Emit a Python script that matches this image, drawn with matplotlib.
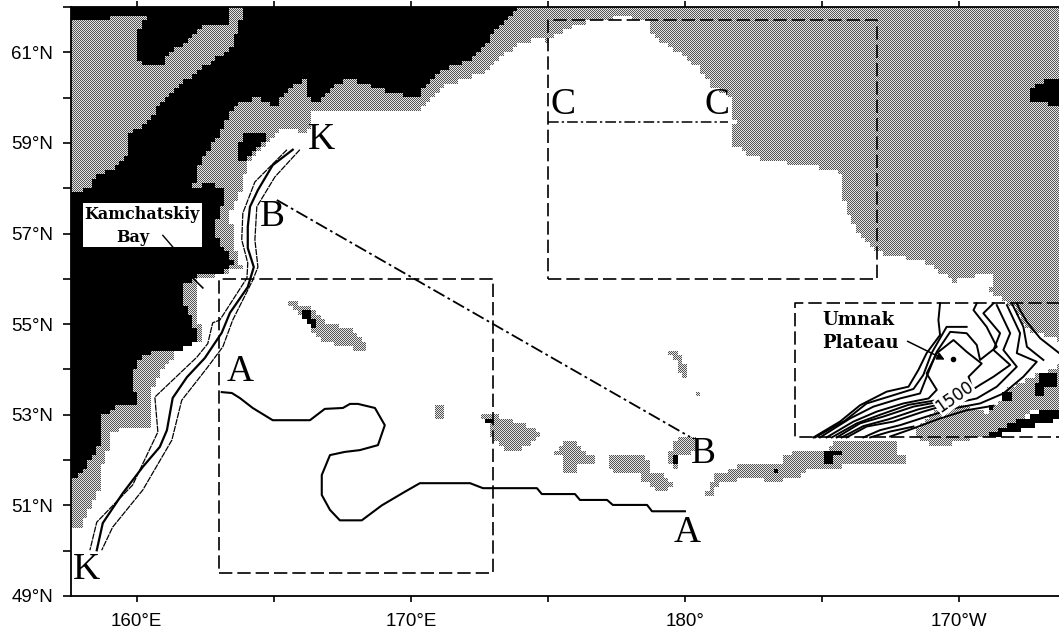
import numpy as np
import matplotlib
matplotlib.use("Agg")
import matplotlib.pyplot as plt
from matplotlib.path import Path
from matplotlib.patches import Rectangle

# depth classes as (lon, lat), lon runs past 180 going east
shelf_main = [(157,62.5),(194,62.5),(194,54.54),(192.49,54.87),(191.97,55.38),(191.14,55.69),(191.21,56.15),
    (189.78,55.93),(188.58,56.42),(187.38,56.48),(186.86,56.68),(186.21,57.08),(185.84,57.52),(185.66,58.34),
    (184.82,58.47),(184.2,58.51),(182.48,58.67),(181.65,59.0),(181.83,59.44),(181.65,59.66),(181.65,60.02),
    (180.92,60.24),(180.44,60.68),(179.56,61.05),(178.8,61.34),(178.73,61.7),(177.63,61.78),(175.99,61.6),
    (175.26,61.38),(175.0,61.23),(174.71,61.27),(173.98,61.23),(172.52,60.5),(171.06,60.21),(170.33,59.68),
    (167.78,59.73),(166.42,59.66),(166.24,59.22),(165.33,59.29),(164.67,58.91),(164.05,58.62),(163.76,57.9),
    (163.4,57.45),(163.5,56.7),(163.83,56.24),(162.77,56.04),(162.19,56.04),(162.19,55.25),
    (162.37,54.69),(161.83,54.47),(161.31,54.54),(161.31,54.21),(160.84,53.94),(160.48,53.39),
    (160.48,52.71),(159.75,52.71),(158.94,52.6),(158.94,52.22),(158.72,51.85),(158.72,51.49),(158.29,50.9),
    (157.92,50.52),(157,50.45)]
shelf_isles = [
    [(165.33,55.53),(166.32,55.36),(166.79,55.05),(167.78,54.87),(168.4,54.54),(168.4,54.38),(167.67,54.47),
     (166.68,54.65),(166.32,54.91),(165.88,55.27)],
    [(170.8,53.17),(171.17,53.17),(171.17,52.95),(170.8,52.95)],
    [(172.45,52.88),(172.7,53.04),(173.25,52.93),(174.09,52.77),(174.64,52.62),(174.6,52.44),(173.98,52.22),
     (173.51,52.22),(172.96,52.49),(172.89,52.82)],
    [(175.08,52.11),(175.55,52.4),(176.06,52.4),(176.24,52.18),(176.72,52.07),(176.72,51.93),(176.06,51.93),
     (176.06,51.71),(175.55,51.71),(175.55,52.04)],
    [(177.12,52.04),(177.63,52.15),(178.65,52.04),(178.65,51.71),(179.2,51.67),(179.56,51.38),(178.98,51.31),
     (178.36,51.56),(178.25,51.71),(177.34,51.71)],
    [(179.27,52.11),(179.56,52.18),(179.56,52.4),(179.93,52.49),(180.37,52.51),(180.26,52.11),(179.75,52.07),
     (179.71,51.82),(179.38,51.89)],
    [(180.73,51.23),(180.99,51.49),(180.99,51.67),(181.83,51.78),(181.83,51.93),(183.58,51.91),(183.58,52.07),
     (183.94,52.18),(185.11,52.18),(185.48,52.44),(187.74,52.44),(187.74,52.15),(188.14,52.15),(188.14,51.93),
     (185.66,51.93),(185.66,51.82),(184.46,51.82),(184.46,51.71),(183.73,51.56),(183.18,51.51),(183.11,51.45),
     (182.85,51.56),(181.9,51.56),(181.17,51.45),(181.02,51.23)],
    [(179.35,54.38),(179.71,54.38),(179.89,54.21),(180.08,53.94),(180.0,53.81),(179.82,53.83),(179.71,54.14)],
    [(180.44,53.52),(180.55,53.52),(180.55,53.41),(180.44,53.41)],
    [(188.32,52.66),(188.84,52.95),(189.42,53.17),(190.22,53.17),(191.03,53.04),(191.57,53.39),(191.87,53.61),
     (192.7,53.83),(194,54.14),(194,53.15),(192.7,53.11),(191.97,52.73),(190.88,52.51),(189.31,52.29),(188.65,52.38)],
]
land_polys = [
    [(157,51.45),(157.85,51.67),(158.21,51.93),(158.47,52.17),(158.72,52.55),(158.58,52.93),(159.27,53.17),
     (160.0,53.17),(159.82,53.83),(160.0,54.16),(160.66,54.43),(161.75,54.45),(162.23,54.69),(162.04,55.03),
     (161.86,55.31),(161.68,55.53),(161.68,55.85),(162.3,56.1),(163.1,56.1),(163.47,56.35),(163.14,56.68),(162.77,57.01),
     (163.1,57.59),(163.29,57.9),(162.56,58.12),(162.04,57.96),(162.19,58.47),(163.03,59.22),(163.47,59.8),
     (164.38,60.0),(165.11,59.8),(165.48,60.17),(166.13,60.39),(166.32,59.8),(167.15,60.24),(167.78,60.41),
     (169.05,60.13),(170.33,59.95),(170.51,60.28),(171.06,60.61),(172.16,60.79),(173.62,61.83),(174.71,62.5),
     (163.94,62.5),(163.76,61.67),(163.4,61.05),(162.19,60.57),(161.46,60.21),(160.22,59.4),(159.75,59.18),
     (159.67,58.69),(159.02,58.4),(158.29,58.18),(158.29,57.96),(157,57.92)],
    [(157,62.5),(163.29,62.5),(163.29,61.65),(162.41,61.6),(161.83,61.23),(160.95,60.88),(160.95,60.68),
     (160.29,60.68),(159.93,60.94),(159.93,61.43),(160.4,61.76),(159.56,61.78),(158.29,61.72),(157,61.67)],
    [(163.65,58.91),(163.94,59.18),(164.67,59.18),(164.67,59.0),(164.13,58.69),(163.65,58.56)],
    [(165.88,55.33),(166.3,55.33),(166.55,54.95),(166.3,54.95),(166.05,55.1)],
    [(172.74,52.95),(173.1,52.95),(173.1,52.82),(172.74,52.82)],
    [(179.56,52.07),(179.75,52.07),(179.75,51.92),(179.56,51.92)],
    [(183.18,51.82),(183.4,51.82),(183.4,51.67),(183.18,51.67)],
    [(185.11,52.18),(185.7,52.18),(185.7,52.07),(185.33,52.07),(185.33,51.91),(185.11,51.91)],
    [(191.57,53.55),(191.94,53.55),(191.94,53.3),(191.57,53.3)],
    [(192.85,53.92),(193.58,53.92),(193.58,53.61),(193.03,53.55),(193.03,53.39),(192.67,53.39),(192.67,53.66),(192.85,53.7)],
    [(191.1,53.17),(191.28,53.17),(191.28,53.06),(191.1,53.06)],
    [(190.77,52.49),(191.97,52.82),(192.96,53.06),(194,53.1),(194,52.95),(192.7,52.73),(191.97,52.6),(191.24,52.49)],
    [(192.49,60.06),(192.85,60.28),(193.22,60.39),(194,60.39),(194,59.77),(193.22,59.77),(193.14,59.9),(192.67,59.9)],
]

section_a = [(163.1,53.5),(163.47,53.48),(163.76,53.37),(164.23,53.15),(164.96,52.88),(166.32,52.88),(166.86,53.13),
    (167.52,53.15),(167.78,53.24),(168.07,53.24),(168.69,53.15),(169.05,52.77),(168.8,52.33),(168.14,52.22),
    (167.59,52.18),(167.05,52.11),(166.75,51.67),(166.75,51.23),(167.05,50.9),(167.41,50.67),(168.21,50.67),
    (168.94,51.0),(169.78,51.3),(170.33,51.49),(172.16,51.49),(172.63,51.38),(174.6,51.38),(174.78,51.25),
    (175.99,51.25),(176.17,51.12),(177.16,51.12),(177.37,51.01),(178.62,51.01),(178.8,50.87),(180.0,50.87)]
section_b = [(165.11,57.74),(180.19,52.51)]
section_c = [(175,59.46),(181.57,59.46)]
section_k = [(165.69,58.85),(164.96,58.51),(164.42,57.96),(164.13,57.59),(164.05,57.15),(164.05,56.68),(164.27,56.26),
    (164.05,55.82),(163.4,55.25),(163.1,54.81),(162.48,54.25),(161.83,53.83),(161.31,53.37),(161.1,52.66),
    (160.84,52.29),(160.22,51.85),(159.49,51.27),(158.76,50.61),(158.54,50.01)]
k_right = [(165.95,58.85),(165.04,58.25),(164.38,57.59),(164.31,56.86),(164.42,56.26),(164.23,55.97),(163.5,55.09),
    (163.14,54.5),(162.56,54.03),(161.64,53.32),(161.28,52.44),(160.22,51.34),(159.12,50.52),(158.72,50.01)]
k_left = [(165.48,58.85),(164.31,58.14),(163.87,57.45),(163.83,56.86),(164.05,56.35),(164.02,56.02),(163.03,55.09),
    (162.77,55.03),(162.59,54.57),(162.19,54.27),(160.66,53.39),(160.77,52.62),(159.85,51.45),(158.54,50.63),(158.29,50.01)]

umnak_contours = [
    [(184.69,52.5),(185.66,52.85),(186.39,53.21),(187.36,53.51),(188.16,53.62),(188.52,53.99),(188.82,54.36),(189.31,54.76),(189.25,55.09),(189.31,55.46)],
    [(184.75,52.5),(185.84,52.87),(186.63,53.25),(187.49,53.41),(188.34,53.57),(188.7,53.88),(189.0,54.36),(189.55,54.94),(190.28,54.94)],
    [(184.93,52.5),(186.03,52.92),(186.88,53.18),(187.85,53.36),(188.58,53.47),(188.82,53.84),(189.19,54.39),(189.68,54.83),(190.28,54.8),(190.65,54.54),(190.77,54.21),(191.38,54.5),(191.01,54.94),(190.53,55.31),(190.65,55.46)],
    [(185.17,52.5),(186.15,52.85),(187.0,53.07),(187.97,53.25),(188.89,53.36),(189.19,53.55),(188.82,53.91),(189.19,54.36),(189.8,54.65),(190.28,54.39),(190.83,54.13),(190.35,53.84),(190.47,53.62),(190.04,53.4)],
    [(185.36,52.5),(186.27,52.81),(187.12,53.0),(188.16,53.22),(189.07,53.31)],
    [(185.54,52.5),(186.39,52.81),(187.24,52.96),(188.34,53.18),(189.31,53.29),(190.28,53.47),(190.77,53.66),(191.26,53.84),(191.87,54.1),(191.26,54.43),(191.5,54.8),(190.89,55.24),(191.26,55.46)],
    [(185.72,52.5),(186.51,52.75),(187.43,52.9),(188.52,53.12),(189.43,53.25)],
    [(185.9,52.5),(186.63,52.74),(187.61,52.85),(188.7,53.07),(189.55,53.22),(190.65,53.36),(191.38,53.62),(192.11,54.06),(191.62,54.43),(191.87,54.8),(191.38,55.42)],
    [(186.51,52.5),(187.12,52.66),(187.85,52.77),(188.82,52.96),(189.8,53.14),(190.77,53.25),(191.62,53.47),(192.35,53.84),(192.84,54.17),(192.11,54.36),(192.23,54.8),(191.75,55.42)],
    [(193.08,54.21),(192.48,54.5),(192.35,54.94),(191.93,55.46)],
    [(193.66,54.36),(192.96,54.69),(192.48,55.05),(192.23,55.31),(192.11,55.46)],
    [(187.49,52.52),(188.34,52.7),(189.31,52.92),(190.28,53.1),(191.26,53.2)],
    [(186.76,52.5),(187.49,52.63),(188.34,52.74)],
]

box_a = ([163,173,173,163,163], [49.5,49.5,56,56,49.5])
box_c = ([175,187,187,175,175], [56,56,61.72,61.72,56])
box_u = ([194,184,184,194], [55.47,55.47,52.5,52.5])

section_names = ["K","B","A","K","A","B","C","C"]
name_lon = [166.75,164.96,163.76,158.18,180.08,180.66,175.55,181.17]
name_lat = [59.07,57.37,53.94,49.57,50.39,52.15,59.84,59.84]

lon_ticks = [160,165,170,175,180,185,190]
lon_labels = ["160°E","","170°E","","180°","","170°W"]
lat_ticks = list(range(49,63))
lat_labels = [f"{v}°N" if v % 2 else "" for v in lat_ticks]

W, H = 1059, 629
fig = plt.figure(figsize=(W/100, H/100), dpi=100)
ax = fig.add_axes([71/W, (H-596)/H, 988/W, 589/H])
xlim = (157.6, 193.65)
ylim = (49, 62)

# blocky model grid, dithered to look like the printed stipple
dlon, dlat = 0.167, 0.1
glon = np.arange(157, 194.2, dlon)
glat = np.arange(49, 62.5, dlat)
gx, gy = np.meshgrid(glon + dlon/2, glat + dlat/2)
pts = np.column_stack([gx.ravel(), gy.ravel()])

def mask_of(polys):
    m = np.zeros(len(pts), dtype=bool)
    for p in polys:
        m |= Path(p + [p[0]]).contains_points(pts)
    return m.reshape(gx.shape)

shelf = mask_of([shelf_main] + shelf_isles)
land = mask_of(land_polys)

plon = np.linspace(xlim[0], xlim[1], 988, endpoint=False)
plat = np.linspace(ylim[0], ylim[1], 589, endpoint=False)
ii = ((plat - 49) / dlat).astype(int)
jj = ((plon - 157) / dlon).astype(int)
shelf_px = shelf[np.ix_(ii, jj)]
land_px = land[np.ix_(ii, jj)]
rows, cols = np.indices(shelf_px.shape)
img = np.ones(shelf_px.shape)
img[shelf_px] = np.where((rows + cols)[shelf_px] % 2 == 0, 0.33, 0.9)
img[land_px] = 0
ax.imshow(img, extent=(*xlim, *ylim), origin="lower", cmap="gray", vmin=0, vmax=1,
          aspect="auto", interpolation="nearest", zorder=1)

dash = (0, (8, 3))
dashdot = (0, (7, 2, 1.5, 2))
for box in (box_a, box_c, box_u):
    ax.plot(box[0], box[1], color="k", lw=1.2, ls=dash, zorder=3)

ax.plot(*zip(*section_a), color="k", lw=1.5, zorder=4)
ax.plot(*zip(*section_b), color="k", lw=1.3, ls=dashdot, zorder=4)
ax.plot(*zip(*section_c), color="k", lw=1.1, ls=dashdot, zorder=4)
ax.plot(*zip(*section_k), color="k", lw=1.6, zorder=4)
ax.plot(*zip(*k_right), color="k", lw=0.9, ls=(0, (5, 0.7)), zorder=4)
ax.plot(*zip(*k_left), color="k", lw=0.9, ls=(0, (5, 0.7)), zorder=4)

for c in umnak_contours:
    ax.plot(*zip(*c), color="k", lw=1.4, zorder=4)
ax.plot([189.77], [54.22], "o", color="k", ms=3, zorder=5)
ax.annotate("", xy=(189.57,54.19), xytext=(188.03,54.65),
            arrowprops=dict(arrowstyle="-|>", color="k", lw=1.1, mutation_scale=11), zorder=5)
ax.text(189.85, 53.39, "1500", rotation=35, ha="center", va="center", fontsize=12,
        family="DejaVu Sans", bbox=dict(fc="white", ec="none", pad=0.2), zorder=5)
ax.text(185.0, 55.09, "Umnak", ha="left", va="center", fontsize=13, fontweight="bold",
        family="DejaVu Serif", zorder=6)
ax.text(185.0, 54.58, "Plateau", ha="left", va="center", fontsize=13, fontweight="bold",
        family="DejaVu Serif", zorder=6)

ax.add_patch(Rectangle((158.03,56.7), 4.34, 0.97, fc="white", ec="none", zorder=5))
ax.text(160.2, 57.43, "Kamchatskiy", ha="center", va="center", fontsize=11.5, fontweight="bold",
        family="DejaVu Serif", zorder=6)
ax.text(159.85, 56.92, "Bay", ha="center", va="center", fontsize=11.5, fontweight="bold",
        family="DejaVu Serif", zorder=6)
ax.plot([160.95,161.32], [56.96,56.7], color="k", lw=1, zorder=6)
ax.plot([162.04,162.41], [56.02,55.8], color="k", lw=1.2, zorder=6)

for n, x, y in zip(section_names, name_lon, name_lat):
    ax.text(x, y, n, ha="center", va="center", fontsize=27, family="Liberation Serif", zorder=6)

ax.set_xlim(*xlim)
ax.set_ylim(*ylim)
ax.set_xticks(lon_ticks)
ax.set_xticklabels(lon_labels, family="Liberation Sans", fontsize=13.5)
ax.set_yticks(lat_ticks)
ax.set_yticklabels(lat_labels, family="Liberation Sans", fontsize=13.5)
ax.tick_params(axis="x", top=True, length=4, width=1.2, pad=8)
ax.tick_params(axis="y", length=6, width=1.2, pad=7)
ax.spines["right"].set_visible(False)
for s in ("left", "top", "bottom"):
    ax.spines[s].set_linewidth(1.3)

fig.savefig("out.png", dpi=100)
